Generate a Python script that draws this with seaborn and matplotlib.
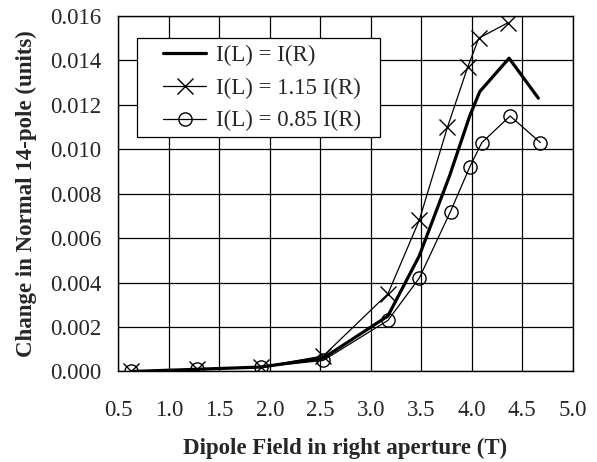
import matplotlib
matplotlib.use("Agg")
import matplotlib.pyplot as plt
from matplotlib.patches import Rectangle
import seaborn as sns
import pandas as pd

# data
x_equal = [0.63, 1.28, 1.91, 2.53, 3.17, 3.48, 3.78, 3.98, 4.08, 4.37, 4.66]
y_equal = [0.0000, 0.0001, 0.0002, 0.0006, 0.0025, 0.0052, 0.0088, 0.0115, 0.0126, 0.0141, 0.0123]

x_115 = [0.63, 1.28, 1.91, 2.53, 3.17, 3.48, 3.76, 3.96, 4.07, 4.36]
y_115 = [0.0000, 0.0001, 0.0002, 0.0007, 0.0035, 0.0068, 0.0110, 0.0137, 0.0150, 0.0157]

x_085 = [0.63, 1.28, 1.91, 2.53, 3.17, 3.48, 3.79, 3.98, 4.10, 4.38, 4.68]
y_085 = [0.0000, 0.0001, 0.0002, 0.0005, 0.0023, 0.0042, 0.0072, 0.0092, 0.0103, 0.0115, 0.0103]

labels = ["I(L) = I(R)", "I(L) = 1.15 I(R)", "I(L) = 0.85 I(R)"]
x_ticks = [0.5, 1.0, 1.5, 2.0, 2.5, 3.0, 3.5, 4.0, 4.5, 5.0]
y_ticks = [0.000, 0.002, 0.004, 0.006, 0.008, 0.010, 0.012, 0.014, 0.016]

sns.set_style("white")
plt.rcParams['font.family'] = ['Liberation Serif', 'DejaVu Serif']

fs = 16.5
fig = plt.figure(figsize=(5.97, 4.62), dpi=100)
ax = fig.add_axes([0.1982, 0.1959, 0.7611, 0.7695])

df1 = pd.DataFrame({"x": x_equal, "y": y_equal})
df2 = pd.DataFrame({"x": x_115, "y": y_115})
df3 = pd.DataFrame({"x": x_085, "y": y_085})

sns.lineplot(data=df1, x="x", y="y", ax=ax, color="black", linewidth=2.3,
             label=labels[0], sort=False, estimator=None, zorder=3)
sns.lineplot(data=df2, x="x", y="y", ax=ax, color="black", linewidth=0.9,
             marker="x", markersize=11, markeredgewidth=1.0,
             markeredgecolor="black", markerfacecolor="black",
             label=labels[1], sort=False, estimator=None, zorder=3)
sns.lineplot(data=df3, x="x", y="y", ax=ax, color="black", linewidth=0.9,
             marker="o", markersize=9.5, markerfacecolor="none",
             markeredgecolor="black", markeredgewidth=1.0,
             label=labels[2], sort=False, estimator=None, zorder=3)

ax.set_xlim(0.5, 5.0)
ax.set_ylim(0.0, 0.016)
ax.set_xticks(x_ticks)
ax.set_yticks(y_ticks)
ax.set_xticklabels([f"{v:.1f}" for v in x_ticks])
ax.set_yticklabels([f"{v:.3f}" for v in y_ticks])
ax.grid(True, color="black", linewidth=0.9)
ax.set_axisbelow(True)
for s in ax.spines.values():
    s.set_color("black")
    s.set_linewidth(1.0)
ax.tick_params(axis="y", direction="out", length=5, width=0.9,
               color="black", labelsize=fs, pad=7)
ax.tick_params(axis="x", direction="out", length=3.5, width=0.9,
               color="black", labelsize=fs, pad=17)

ax.set_xlabel("Dipole Field in right aperture (T)", fontsize=fs,
              fontweight="bold", labelpad=12)
ax.set_ylabel("Change in Normal 14-pole (units)", fontsize=fs,
              fontweight="bold", labelpad=9.5)

# legend frame drawn as a rectangle, legend entries without frame
frame = Rectangle((0.041, 0.660), 0.535, 0.278, transform=ax.transAxes,
                  facecolor="white", edgecolor="black", linewidth=0.9,
                  zorder=4)
ax.add_patch(frame)
leg = ax.legend(loc="upper left", bbox_to_anchor=(0.098, 0.918), fontsize=fs,
                frameon=False, handlelength=1.9, borderpad=0,
                labelspacing=0.5, handletextpad=0.4, borderaxespad=0)
leg.set_zorder(5)

fig.savefig("out.png", dpi=100)
